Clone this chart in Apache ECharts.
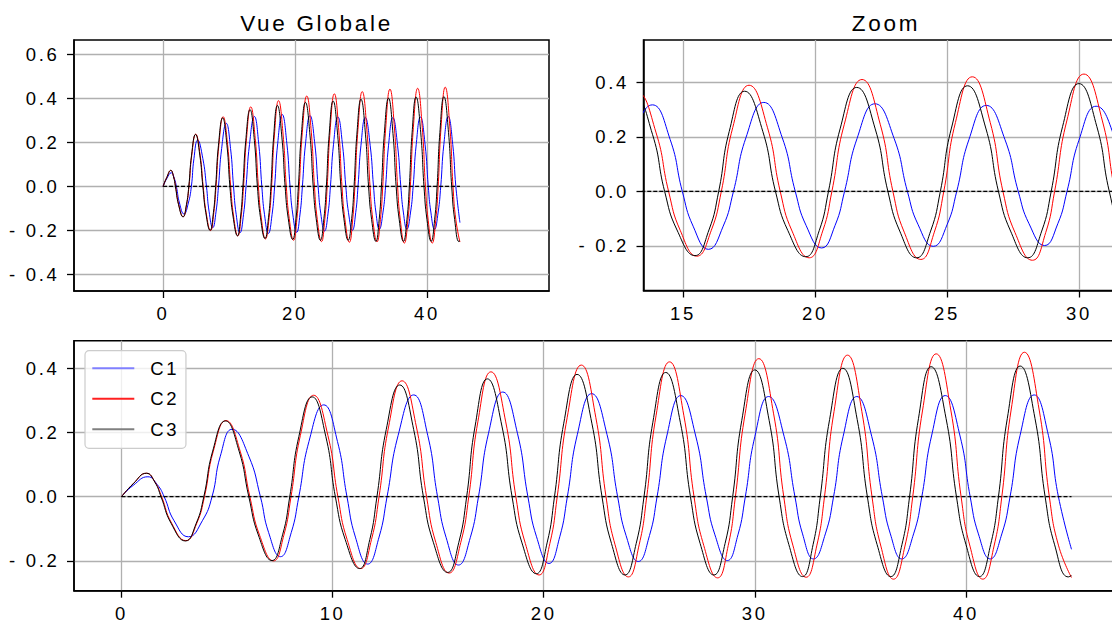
<!DOCTYPE html>
<html>
<head>
<meta charset="utf-8">
<script src="https://cdn.jsdelivr.net/npm/echarts@6.0.0/dist/echarts.min.js"></script>
<style>
  html, body { margin: 0; padding: 0; background: #fff; }
  #chart { width: 1112px; height: 627px; letter-spacing: 2.7px; }
</style>
</head>
<body>
<div id="chart"></div>
<script>
// points: peaks, troughs, zero crossings and mid-height points on each flank
const c1 = [[0,0],[0.55,0.035],[1.25,0.062],[1.7,0.037],[2.02,0],[2.49,-0.075],[3.17,-0.125],[3.83,-0.075],[4.29,0],
  [4.68,0.126],[5.24,0.21],[6.03,0.126],[6.58,0],[6.97,-0.112],[7.53,-0.187],[8.04,-0.112],[8.4,0],
  [8.88,0.172],[9.58,0.286],[10.23,0.172],[10.68,0],[11.08,-0.126],[11.66,-0.21],[12.2,-0.126],[12.58,0],
  [13.1,0.19],[13.84,0.317],[14.51,0.19],[14.97,0],[15.38,-0.128],[15.96,-0.213],[16.52,-0.128],[16.91,0],
  [17.38,0.196],[18.06,0.326],[18.76,0.196],[19.25,0],[19.66,-0.125],[20.25,-0.208],[20.76,-0.125],[21.12,0],
  [21.59,0.193],[22.27,0.321],[23.0,0.193],[23.5,0],[23.9,-0.121],[24.48,-0.202],[25.01,-0.121],[25.37,0],
  [25.83,0.189],[26.49,0.315],[27.2,0.189],[27.7,0],[28.11,-0.119],[28.7,-0.199],[29.2,-0.119],[29.55,0],
  [30.0,0.187],[30.65,0.312],[31.39,0.187],[31.9,0],[32.26,-0.116],[32.78,-0.194],[33.34,-0.116],[33.73,0],
  [34.18,0.187],[34.83,0.312],[35.54,0.187],[36.04,0],[36.42,-0.116],[36.96,-0.194],[37.52,-0.116],[37.91,0],
  [38.37,0.189],[39.02,0.315],[39.72,0.189],[40.2,0],[40.59,-0.116],[41.15,-0.194],[41.7,-0.116],[42.09,0],
  [42.56,0.19],[43.23,0.317],[43.91,0.19],[44.38,0],[45,-0.164]];
const c2 = [[0,0],[0.55,0.04],[1.18,0.073],[1.6,0.044],[1.9,0],[2.37,-0.082],[3.05,-0.137],[3.57,-0.082],[3.93,0],
  [4.35,0.142],[4.95,0.237],[5.62,0.142],[6.08,0],[6.54,-0.12],[7.2,-0.2],[7.69,-0.12],[8.03,0],
  [8.47,0.19],[9.1,0.316],[9.78,0.19],[10.25,0],[10.69,-0.134],[11.33,-0.224],[11.84,-0.134],[12.2,0],
  [12.65,0.217],[13.29,0.361],[13.97,0.217],[14.45,0],[14.89,-0.143],[15.52,-0.238],[16.07,-0.143],[16.45,0],
  [16.88,0.233],[17.5,0.389],[18.2,0.233],[18.68,0],[19.13,-0.146],[19.78,-0.244],[20.29,-0.146],[20.64,0],
  [21.11,0.246],[21.78,0.41],[22.47,0.246],[22.95,0],[23.38,-0.15],[24.01,-0.25],[24.52,-0.15],[24.88,0],
  [25.32,0.252],[25.96,0.42],[26.64,0.252],[27.12,0],[27.58,-0.152],[28.24,-0.253],[28.74,-0.152],[29.08,0],
  [29.54,0.258],[30.19,0.43],[30.89,0.258],[31.37,0],[31.8,-0.151],[32.43,-0.251],[32.94,-0.151],[33.3,0],
  [33.75,0.265],[34.39,0.441],[35.07,0.265],[35.55,0],[35.97,-0.154],[36.57,-0.257],[37.11,-0.154],[37.48,0],
  [37.94,0.267],[38.59,0.445],[39.29,0.267],[39.77,0],[40.19,-0.154],[40.8,-0.257],[41.33,-0.154],[41.7,0],
  [42.14,0.27],[42.77,0.45],[43.47,0.27],[43.95,0],[44.38,-0.151],[45,-0.252]];
const c3 = [[0,0],[0.55,0.04],[1.18,0.073],[1.59,0.044],[1.87,0],[2.35,-0.083],[3.03,-0.138],[3.54,-0.083],[3.9,0],
  [4.32,0.142],[4.92,0.236],[5.57,0.142],[6.03,0],[6.48,-0.119],[7.13,-0.199],[7.63,-0.119],[7.97,0],
  [8.4,0.187],[9.03,0.311],[9.68,0.187],[10.13,0],[10.6,-0.134],[11.28,-0.224],[11.76,-0.134],[12.1,0],
  [12.54,0.209],[13.18,0.348],[13.84,0.209],[14.3,0],[14.77,-0.142],[15.45,-0.236],[15.98,-0.142],[16.35,0],
  [16.75,0.22],[17.33,0.367],[18.02,0.22],[18.5,0],[18.97,-0.144],[19.65,-0.24],[20.16,-0.144],[20.51,0],
  [20.95,0.229],[21.58,0.381],[22.28,0.229],[22.76,0],[23.21,-0.146],[23.85,-0.244],[24.38,-0.146],[24.75,0],
  [25.17,0.232],[25.78,0.387],[26.47,0.232],[26.95,0],[27.41,-0.146],[28.06,-0.244],[28.59,-0.146],[28.95,0],
  [29.38,0.237],[30.0,0.395],[30.68,0.237],[31.15,0],[31.61,-0.149],[32.26,-0.249],[32.76,-0.149],[33.1,0],
  [33.54,0.24],[34.17,0.4],[34.85,0.24],[35.33,0],[35.79,-0.149],[36.44,-0.249],[36.97,-0.149],[37.33,0],
  [37.75,0.243],[38.35,0.405],[39.06,0.243],[39.55,0],[40.0,-0.149],[40.64,-0.249],[41.17,-0.149],[41.54,0],
  [41.96,0.244],[42.57,0.407],[43.27,0.244],[43.75,0],[44.2,-0.15],[44.85,-0.25],[45,-0.246]];
const zeroLine = [[0,0],[45,0]];

const names = ['C1','C2','C3'];
const xTicksGlobal = [0,20,40];
const xTicksZoom = [15,20,25,30];
const xTicksFull = [0,10,20,30,40];
const yTicksGlobal = [-0.4,-0.2,0,0.2,0.4,0.6];
const yTicksZoom = [-0.2,0,0.2,0.4];
const yTicksFull = [-0.2,0,0.2,0.4];

const font = "'Liberation Sans', Arial, sans-serif";
const colors = ['#0000ff','#ff0000','#000000'];

let chart = echarts.init(document.getElementById('chart'), null, {renderer: 'svg'});

function makeAxis(gridIndex, min, max, ticks, isY) {
  return {
    type: 'value', gridIndex: gridIndex, min: min, max: max,
    axisLine: {show: true, onZero: false, lineStyle: {color: '#000', width: 1.5}},
    axisTick: {show: true, customValues: ticks, length: 7, lineStyle: {color: '#000', width: 1.3}},
    axisLabel: {
      customValues: ticks, margin: isY ? 14.5 : 13, color: '#000', fontSize: 18.5, fontFamily: font,
      formatter: isY ? (v => v < -1e-9 ? '- ' + (-v).toFixed(1) : Math.abs(v).toFixed(1)) : (v => String(v))
    },
    splitLine: {show: true, lineStyle: {color: '#b0b0b0', width: 1.3}}
  };
}

function seriesFor(idx) {
  let list = [c1, c2, c3].map((d, i) => ({
    type: 'line', name: names[i], xAxisIndex: idx, yAxisIndex: idx,
    data: d, smooth: 0.5, symbol: 'none', showSymbol: false,
    lineStyle: {color: colors[i], width: 1}, itemStyle: {color: colors[i]}
  }));
  list.push({
    type: 'line', name: 'zero', xAxisIndex: idx, yAxisIndex: idx,
    data: zeroLine, symbol: 'none', showSymbol: false,
    lineStyle: {color: '#000', width: 1.2, type: [4, 2]}
  });
  return list;
}

const gridBase = {show: true, borderColor: '#000', borderWidth: 1.5, backgroundColor: 'transparent', containLabel: false, outerBoundsMode: 'none'};

chart.setOption({
  animation: false,
  title: [
    {text: 'Vue Globale', left: 311.5, top: 7, textAlign: 'center',
     textStyle: {fontSize: 22.5, fontWeight: 'normal', color: '#000', fontFamily: font}},
    {text: 'Zoom', left: 881, top: 7, textAlign: 'center',
     textStyle: {fontSize: 22.5, fontWeight: 'normal', color: '#000', fontFamily: font}}
  ],
  grid: [
    Object.assign({left: 74, top: 40, width: 475, height: 251}, gridBase),
    Object.assign({left: 643.5, top: 40, width: 475, height: 250.5}, gridBase),
    Object.assign({left: 74, top: 340.7, width: 1045, height: 250}, gridBase)
  ],
  xAxis: [
    makeAxis(0, -13.5, 58.5, xTicksGlobal, false),
    makeAxis(1, 13.5, 31.5, xTicksZoom, false),
    makeAxis(2, -2.25, 47.25, xTicksFull, false)
  ],
  yAxis: [
    makeAxis(0, -0.474, 0.664, yTicksGlobal, true),
    makeAxis(1, -0.364, 0.555, yTicksZoom, true),
    makeAxis(2, -0.293, 0.486, yTicksFull, true)
  ],
  legend: {
    data: [
      {name: 'C1', icon: 'rect', itemStyle: {color: '#8080ff'}},
      {name: 'C2', icon: 'rect', itemStyle: {color: '#ff2020'}},
      {name: 'C3', icon: 'rect', itemStyle: {color: '#808080'}}
    ],
    orient: 'vertical', left: 85, top: 350.7, z: 10,
    itemWidth: 42, itemHeight: 2, itemGap: 10.5,
    padding: [7.6, 12, 9, 7.3],
    backgroundColor: 'rgba(255,255,255,0.8)', borderColor: '#cccccc', borderWidth: 1.2, borderRadius: 4,
    textStyle: {fontSize: 18.5, color: '#000', fontFamily: font, lineHeight: 20, padding: [0, 0, 0, 11]},
    selectedMode: false
  },
  series: [].concat(seriesFor(0), seriesFor(1), seriesFor(2))
});
</script>
</body>
</html>
